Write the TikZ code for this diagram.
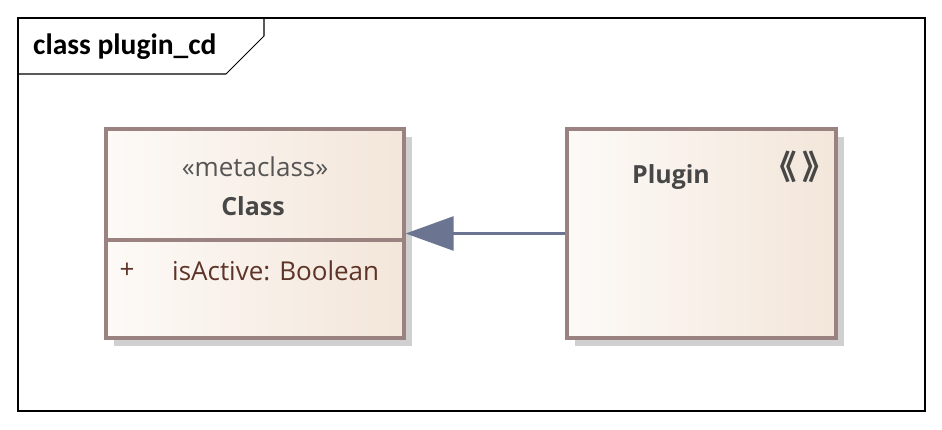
\documentclass[tikz,border=0pt]{standalone}
\usepackage{fontspec}
\setmainfont{Open Sans}
\newfontfamily\titlefont{Carlito}
\newfontfamily\cjkfont{Noto Sans CJK SC}
\usetikzlibrary{positioning, calc, arrows.meta}

\definecolor{boxline}{HTML}{9A8280}
\definecolor{boxleft}{HTML}{FDFAF7}
\definecolor{boxright}{HTML}{F3E6DA}
\definecolor{shadowgray}{HTML}{D0D0D0}
\definecolor{arrowblue}{HTML}{6B7591}
\definecolor{attrbrown}{HTML}{5E3428}
\definecolor{stereogray}{HTML}{555555}
\definecolor{namegray}{HTML}{474747}

\tikzset{
    umlbox/.style={draw=boxline, line width=1.9pt, rectangle,
        left color=boxleft, right color=boxright, shading angle=90,
        minimum height=4.18cm, inner sep=0pt},
    boxshadow/.style={fill=shadowgray, draw=none},
    gen/.style={draw=arrowblue, line width=1.5pt,
        -{Triangle[length=0.96cm, width=0.68cm, fill=arrowblue]}},
    boxtext/.style={font=\fontsize{14.8}{16}\selectfont},
    boxname/.style={font=\fontsize{14.2}{16}\selectfont\bfseries, text=namegray},
}

\begin{document}
\begin{tikzpicture}[x=0.02cm, y=-0.02cm]
    % 全体の大きさ
    \useasboundingbox (0,0) rectangle (942,429);

    % 枠
    \draw[line width=0.6pt] (18,18) rectangle (925,411);
    \draw[line width=0.6pt] (18,74) -- (226,74) -- (264,36) -- (264,18);
    \node[anchor=west, font=\titlefont\fontsize{16.8}{18}\selectfont\bfseries] (title) at (27,47) {class plugin\_cd};

    % 影
    \fill[boxshadow] (114,137) rectangle (412,346);
    \fill[boxshadow] (575,137) rectangle (844,346);

    % クラス
    \node[umlbox, minimum width=5.96cm] (cls) at (255,233.5) {};
    \draw[draw=boxline, line width=1.9pt] (106,240) -- (404,240);
    \node[boxtext, text=stereogray] (stereo) at (255,167) {«metaclass»};
    \node[boxname] (clsname) at (253,206) {Class};
    \node[boxtext, text=attrbrown] (plus) at (127,271) {+};
    \node[boxtext, anchor=west, text=attrbrown] (attr) at (166,271) {isActive: Boolean};

    % プラグイン
    \node[umlbox, minimum width=5.38cm] (plugin) at (701.5,233.5) {};
    \node[boxname] (plgname) at (671,177) {Plugin};
    \node[text=namegray, font=\cjkfont\fontsize{19}{22}\selectfont\bfseries] (mark) at (800,167) {《\kern3pt》};

    % 汎化
    \draw[gen] (plugin.west) -- (cls.east);
\end{tikzpicture}
\end{document}
